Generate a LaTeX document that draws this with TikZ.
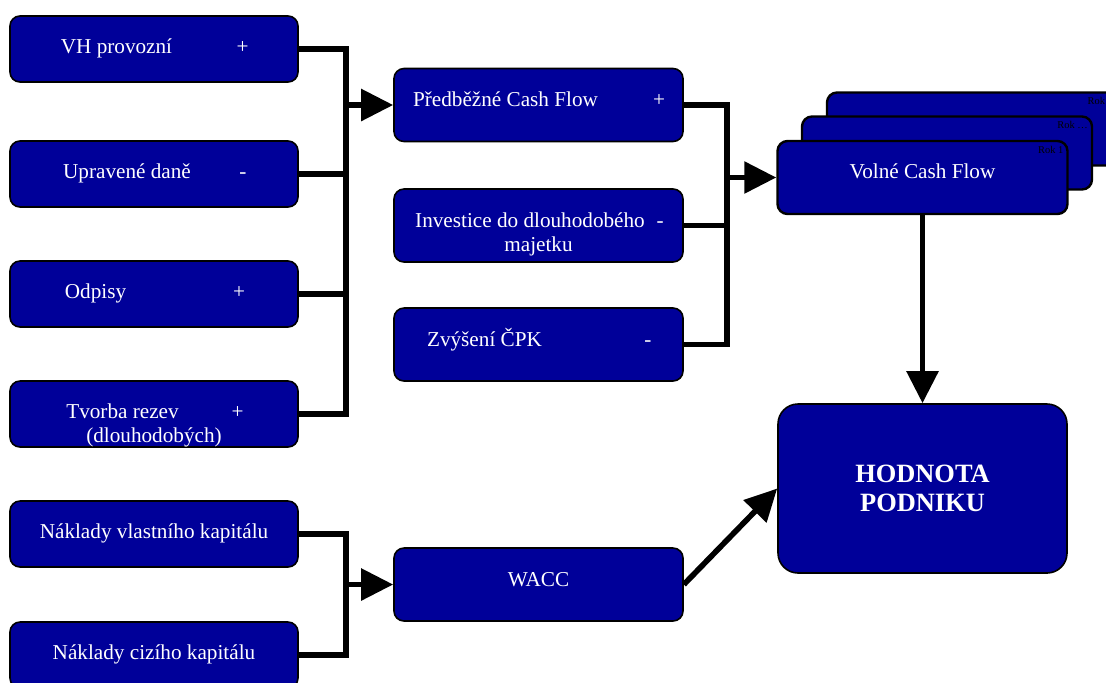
\documentclass[tikz,border=0pt]{standalone}
\usepackage{fontspec}
\setmainfont{Liberation Serif}
\usetikzlibrary{arrows.meta}
\definecolor{boxblue}{RGB}{0,0,153}
% puts #2 with its middle #1 away from the middle of the box
\newcommand{\txtat}[2]{\makebox[0pt]{\hspace*{#1}\hspace*{#1}#2}}
\tikzset{
	dcf/.is family,
	dcf/.cd,
	box/.style = {
		draw = black,
		line width = 0.8pt,
		fill = boxblue,
		text = white,
		rounded corners = 5pt,
		inner sep = 0pt,
		minimum width = 144pt,
		align = center,
		font = \fontsize{10.6}{12}\selectfont,
		% text hangs from the top of the box, not from its middle
		text height = 18.5pt,
		text depth = 14.5pt,
	},
	% the baseline of a two line text is the one of its last line
	box two lines/.style = {
		text height = 30.5pt,
		text depth = 2.5pt,
	},
	tall box/.style = {
		dcf/box,
		minimum width = 144.5pt,
		text height = 19pt,
		text depth = 17.5pt,
	},
	tall box two lines/.style = {
		text height = 31pt,
		text depth = 5.5pt,
	},
	flow box/.style = {
		dcf/box,
		line width = 1.2pt,
		minimum width = 145pt,
		text height = 18.5pt,
		text depth = 18pt,
	},
	year/.style = {
		anchor = north east,
		text = black,
		inner sep = 2.5pt,
		text height = 4pt,
		text depth = 1pt,
		font = \fontsize{5.2}{6}\selectfont,
	},
	result/.style = {
		draw = black,
		line width = 0.8pt,
		fill = boxblue,
		text = white,
		rounded corners = 10pt,
		inner sep = 0pt,
		minimum width = 144.5pt,
		minimum height = 84.5pt,
		align = center,
		font = \fontsize{13.2}{14.5}\selectfont\bfseries,
	},
	link/.style = {
		line width = 2.8pt,
	},
	arrow/.style = {
		line width = 2.8pt,
		-{Triangle[length = 16pt, width = 15.5pt]},
	},
}

\begin{document}
\begin{tikzpicture}[x = 0.5pt, y = -0.5pt]
	\useasboundingbox (0, 0) rectangle (1106, 682);

	% left column
	\node[dcf/box] (vh) at (154, 49) {\txtat{-18.75pt}{VH provozní}\txtat{44.25pt}{+}};
	\node[dcf/box] (dane) at (154, 174) {\txtat{-13.5pt}{Upravené daně}\txtat{44.5pt}{-}};
	\node[dcf/box] (odpisy) at (154, 294) {\txtat{-29.25pt}{Odpisy}\txtat{42.5pt}{+}};
	\node[dcf/box, dcf/box two lines] (rezervy) at (154, 414) {\txtat{-15.75pt}{Tvorba rezev}\txtat{41.75pt}{+}\\(dlouhodobých)};
	\node[dcf/box] (vlastni) at (154, 534) {Náklady vlastního kapitálu};
	\node[dcf/box] (cizi) at (154, 655) {Náklady cizího kapitálu};

	% middle column
	\node[dcf/tall box] (predbezne) at (538.5, 105) {\txtat{-16.5pt}{Předběžné Cash Flow}\txtat{60.25pt}{+}};
	\node[dcf/tall box, dcf/tall box two lines] (investice) at (538.5, 225.5) {\txtat{-4.25pt}{Investice do dlouhodobého}\txtat{60.75pt}{-}\\majetku};
	\node[dcf/tall box] (cpk) at (538.5, 344.5) {\txtat{-27pt}{Zvýšení ČPK}\txtat{54.75pt}{-}};
	\node[dcf/tall box] (wacc) at (538.5, 584.5) {WACC};

	% one box per year, the first in front
	\node[dcf/flow box, label = {[dcf/year]north east:Rok \phantom{n}}] (rokn) at (972, 129) {};
	\node[dcf/flow box, label = {[dcf/year]north east:Rok \dots}] (rokdalsi) at (947, 153) {};
	\node[dcf/flow box, label = {[dcf/year]north east:Rok 1}] (volne) at (922.5, 177.5) {Volné Cash Flow};

	\node[dcf/result] (hodnota) at (922.5, 488.5) {HODNOTA\\PODNIKU};

	\coordinate (j1) at (346, 0);
	\coordinate (j2) at (727, 0);

	\draw[dcf/link] (vh.east) -| (rezervy.east -| j1) -- (rezervy.east);
	\draw[dcf/link] (dane.east) -- (dane.east -| j1);
	\draw[dcf/link] (odpisy.east) -- (odpisy.east -| j1);
	\draw[dcf/arrow] (predbezne.west -| j1) -- (predbezne.west);

	\draw[dcf/link] (predbezne.east) -| (cpk.east -| j2) -- (cpk.east);
	\draw[dcf/link] (investice.east) -- (investice.east -| j2);
	\draw[dcf/arrow] (volne.west -| j2) -- (volne.west);

	\draw[dcf/link] (vlastni.east) -| (cizi.east -| j1) -- (cizi.east);
	\draw[dcf/arrow] (wacc.west -| j1) -- (wacc.west);

	\draw[dcf/arrow] (volne.south) -- (hodnota.north);
	\draw[dcf/arrow] (wacc.east) -- (hodnota.west);
\end{tikzpicture}
\end{document}
